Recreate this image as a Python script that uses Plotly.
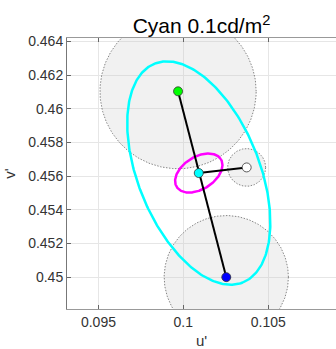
import numpy as np
import plotly.graph_objects as go

# ---- data ----
# points (u', v')
point_names = ["green", "cyan", "white", "blue"]
point_u = [0.09969, 0.10091, 0.10373, 0.10253]
point_v = [0.46104, 0.456185, 0.456518, 0.45000]
point_colors = ["#00ff00", "#00ffff", "#ffffff", "#0000ff"]

# shaded circles around green, blue and white points
circle_u = [0.09969, 0.10253, 0.10373]
circle_v = [0.46104, 0.45000, 0.456518]
circle_r = [0.0046, 0.00366, 0.00112]

# ellipses centred on the cyan point: semi-major, semi-minor, angle (deg)
ell_a = [0.0070, 0.00154]
ell_b = [0.00358, 0.00096]
ell_angle = [-68.3, 32.8]
ell_colors = ["#00ffff", "#ff00ff"]

x_ticks = [0.095, 0.1, 0.105]
x_ticktext = ["0.095", "0.1", "0.105"]
y_ticks = [0.45, 0.452, 0.454, 0.456, 0.458, 0.46, 0.462, 0.464]
y_ticktext = ["0.45", "0.452", "0.454", "0.456", "0.458", "0.46", "0.462", "0.464"]

x_range = [0.093149, 0.108992]
y_range = [0.448107, 0.464208]

fig = go.Figure()
t = np.linspace(0, 2 * np.pi, 361)

# circles
for cu, cv, r in zip(circle_u, circle_v, circle_r):
    fig.add_trace(go.Scatter(
        x=cu + r * np.cos(t), y=cv + r * np.sin(t), mode="lines",
        fill="toself", fillcolor="rgba(200,200,200,0.25)",
        line=dict(color="#555555", width=0.7, dash="1.5px,1.5px"),
        hoverinfo="skip", showlegend=False))

# ellipses
cu0, cv0 = point_u[1], point_v[1]
for a, b, ang, col in zip(ell_a, ell_b, ell_angle, ell_colors):
    th = np.deg2rad(ang)
    ex = a * np.cos(t) * np.cos(th) - b * np.sin(t) * np.sin(th)
    ey = a * np.cos(t) * np.sin(th) + b * np.sin(t) * np.cos(th)
    fig.add_trace(go.Scatter(x=cu0 + ex, y=cv0 + ey, mode="lines",
                             line=dict(color=col, width=2.5),
                             hoverinfo="skip", showlegend=False))

# connecting lines
fig.add_trace(go.Scatter(x=[point_u[0], point_u[3]], y=[point_v[0], point_v[3]],
                         mode="lines", line=dict(color="black", width=2),
                         showlegend=False))
fig.add_trace(go.Scatter(x=[point_u[1], point_u[2]], y=[point_v[1], point_v[2]],
                         mode="lines", line=dict(color="black", width=2),
                         showlegend=False))

# markers
fig.add_trace(go.Scatter(x=point_u, y=point_v, mode="markers",
                         marker=dict(size=9, color=point_colors,
                                     line=dict(color="#333333", width=0.8)),
                         text=point_names, showlegend=False))

axis_font = dict(family="Liberation Sans, Arial, sans-serif", size=14, color="#333333")
fig.update_layout(
    width=336, height=349,
    margin=dict(l=67, r=0, t=38, b=40),
    paper_bgcolor="white", plot_bgcolor="white",
    font=axis_font,
    title=dict(text="Cyan 0.1cd/m<sup>2</sup>", x=0.5, xref="paper", xanchor="center",
               y=1 - 26 / 349, yref="container", yanchor="middle",
               font=dict(family="Liberation Sans, Arial, sans-serif", size=21, color="#000000")),
    xaxis=dict(range=x_range, tickvals=x_ticks, ticktext=x_ticktext,
               showline=True, linecolor="#999999", linewidth=1, mirror="ticks",
               ticks="inside", ticklen=4, tickcolor="#666666",
               showgrid=True, gridcolor="#e6e6e6", zeroline=False,
               title=dict(text="u'", standoff=7, font=dict(size=15))),
    yaxis=dict(range=y_range, tickvals=y_ticks, ticktext=y_ticktext,
               showline=True, linecolor="#777777", linewidth=1,
               ticks="inside", ticklen=4, tickcolor="#666666",
               showgrid=True, gridcolor="#e6e6e6", zeroline=False,
               title=dict(text="v'", standoff=8, font=dict(size=15))),
)

fig.write_html("out.html")
